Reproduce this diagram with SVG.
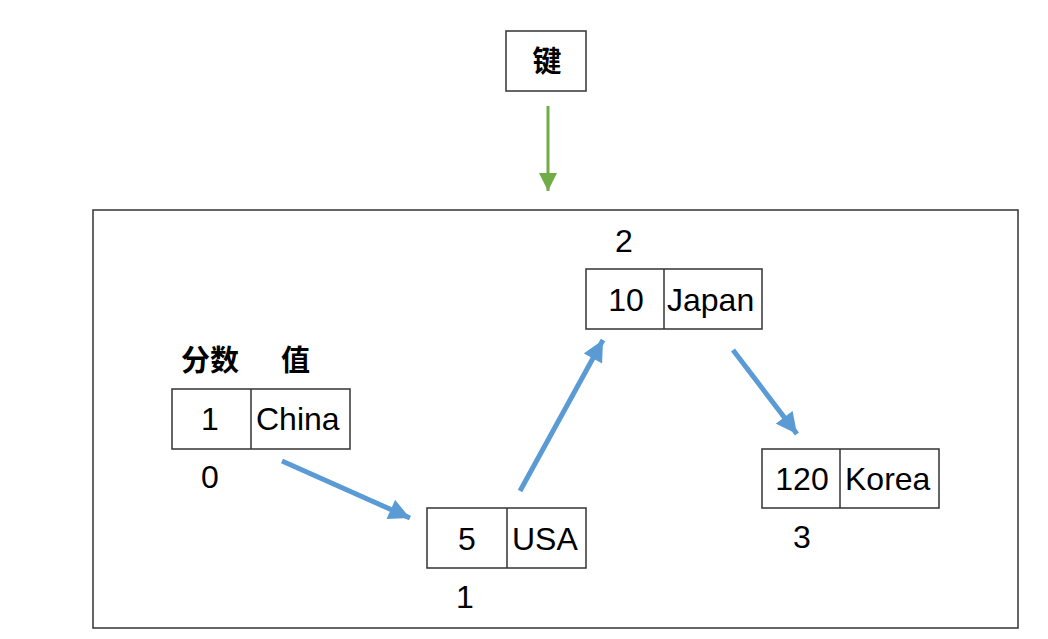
<svg xmlns="http://www.w3.org/2000/svg" width="1048" height="639" viewBox="0 0 1048 639">
<defs>
<style>
.box{fill:#fff;stroke:#333;stroke-width:1.5}
.t{font-family:"Liberation Sans",Arial,sans-serif;font-size:32px;fill:#000}
.c{font-family:"Noto Sans CJK SC",sans-serif;font-size:29px;font-weight:bold;fill:#000}
.blue{stroke:#5B9BD5;stroke-width:5;fill:none;marker-end:url(#ab)}
.green{stroke:#70AD47;stroke-width:3;fill:none;marker-end:url(#ag)}
</style>
<marker id="ab" viewBox="0 0 10 10" refX="10" refY="5" markerWidth="4.4" markerHeight="4.2" orient="auto" markerUnits="strokeWidth">
<path d="M0,0 L10,5 L0,10 z" fill="#5B9BD5"/>
</marker>
<marker id="ag" viewBox="0 0 10 10" refX="10" refY="5" markerWidth="6" markerHeight="6" orient="auto" markerUnits="strokeWidth">
<path d="M0,0 L10,5 L0,10 z" fill="#70AD47"/>
</marker>
</defs>
<rect width="1048" height="639" fill="#fff"/>
<rect x="93" y="210" width="925" height="418" fill="none" stroke="#333" stroke-width="1.5"/>
<g id="key">
<rect class="box" x="506" y="31" width="80" height="60"/>
<text class="c" x="547" y="72" text-anchor="middle">键</text>
</g>
<g id="header">
<text class="c" x="181" y="371">分数</text>
<text class="c" x="281" y="371">值</text>
</g>
<g id="node0">
<rect class="box" x="172" y="389" width="178" height="60"/>
<line x1="251" y1="389" x2="251" y2="449" stroke="#333" stroke-width="1.5"/>
<text class="t" x="210" y="430" text-anchor="middle">1</text>
<text class="t" x="256" y="430">China</text>
<text class="t" x="210" y="488" text-anchor="middle">0</text>
</g>
<g id="node1">
<rect class="box" x="427" y="508" width="159" height="60"/>
<line x1="507" y1="508" x2="507" y2="568" stroke="#333" stroke-width="1.5"/>
<text class="t" x="467" y="550" text-anchor="middle">5</text>
<text class="t" x="512" y="550">USA</text>
<text class="t" x="465" y="608" text-anchor="middle">1</text>
</g>
<g id="node2">
<rect class="box" x="586" y="269" width="176" height="60"/>
<line x1="664" y1="269" x2="664" y2="329" stroke="#333" stroke-width="1.5"/>
<text class="t" x="626" y="311" text-anchor="middle">10</text>
<text class="t" x="667" y="311">Japan</text>
<text class="t" x="624" y="252" text-anchor="middle">2</text>
</g>
<g id="node3">
<rect class="box" x="762" y="449" width="177" height="59"/>
<line x1="840" y1="449" x2="840" y2="508" stroke="#333" stroke-width="1.5"/>
<text class="t" x="802" y="490" text-anchor="middle">120</text>
<text class="t" x="845" y="490">Korea</text>
<text class="t" x="802" y="548" text-anchor="middle">3</text>
</g>
<g id="connectors">
<line class="green" x1="548" y1="106" x2="548" y2="191"/>
<line class="blue" x1="282" y1="461" x2="410" y2="518"/>
<line class="blue" x1="520" y1="491" x2="603" y2="340"/>
<line class="blue" x1="733" y1="350" x2="797" y2="434"/>
</g>
</svg>
